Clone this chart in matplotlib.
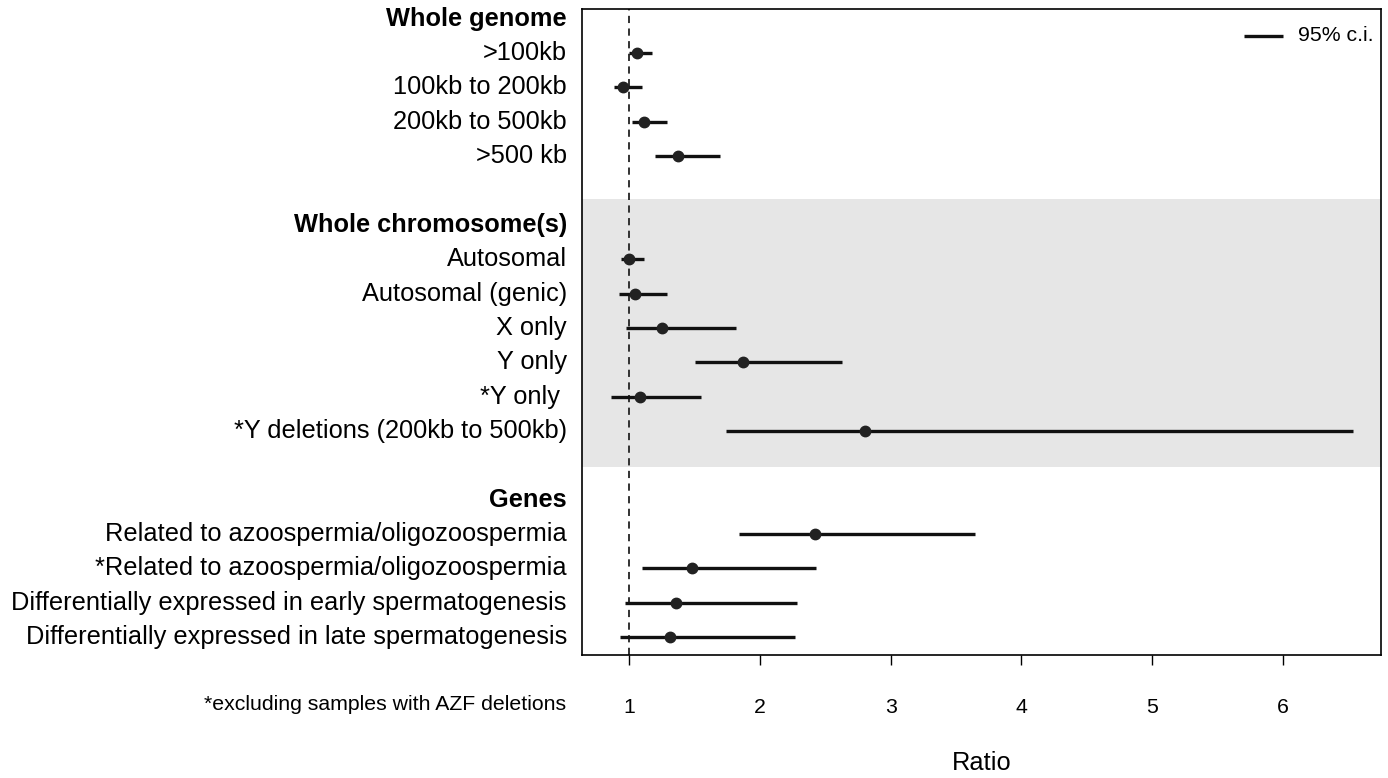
import matplotlib
matplotlib.use('Agg')
import matplotlib.pyplot as plt
import matplotlib.transforms as mtransforms

plt.rcParams['font.family'] = ['Liberation Sans', 'DejaVu Sans']

# rows: labels in plotting order, blank strings are spacer rows
labels = ['Whole genome', '>100kb', '100kb to 200kb', '200kb to 500kb', '>500 kb', '',
          'Whole chromosome(s)', 'Autosomal', 'Autosomal (genic)', 'X only', 'Y only',
          '*Y only ', '*Y deletions (200kb to 500kb)', '',
          'Genes', 'Related to azoospermia/oligozoospermia',
          '*Related to azoospermia/oligozoospermia',
          'Differentially expressed in early spermatogenesis',
          'Differentially expressed in late spermatogenesis']
headers = ['Whole genome', 'Whole chromosome(s)', 'Genes']

ratio = [None, 1.06, 0.95, 1.11, 1.37, None,
         None, 1.00, 1.04, 1.25, 1.87, 1.08, 2.80, None,
         None, 2.42, 1.48, 1.36, 1.31]
ci_low = [None, 1.00, 0.885, 1.02, 1.20, None,
          None, 0.94, 0.92, 0.975, 1.50, 0.86, 1.74, None,
          None, 1.84, 1.10, 0.97, 0.93]
ci_high = [None, 1.17, 1.095, 1.29, 1.69, None,
           None, 1.11, 1.29, 1.82, 2.63, 1.55, 6.54, None,
           None, 3.645, 2.43, 2.28, 2.27]

xticks = [1, 2, 3, 4, 5, 6]

fig = plt.figure(figsize=(13.88, 7.78), dpi=100)
ax = fig.add_axes([582 / 1388, 1 - 655 / 778, 799 / 1388, 646 / 778])

ax.axhspan(5.25, 13.05, color='#e6e6e6', lw=0, zorder=0)
ax.axvline(1, color='#222222', ls=(0, (4, 3)), lw=1.3, zorder=1)

for i, lab in enumerate(labels):
    if ratio[i] is not None:
        ax.plot([ci_low[i], ci_high[i]], [i, i], color='#111111', lw=2.4,
                solid_capstyle='butt', zorder=2)
        ax.plot(ratio[i], i, 'o', color='#222222', ms=7.5, zorder=3)

trans = mtransforms.blended_transform_factory(ax.transAxes, ax.transData)
for i, lab in enumerate(labels):
    if not lab:
        continue
    ax.text(-0.019, i, lab, transform=trans, ha='right', va='center',
            fontsize=18.3, fontweight='bold' if lab in headers else 'normal')

ax.set_xlim(0.638, 6.751)
ax.set_ylim(18.52, -0.28)
ax.set_yticks([])
ax.set_xticks(xticks)
ax.set_xticklabels([str(t) for t in xticks])
ax.tick_params(axis='x', length=7, width=1, pad=24, labelsize=15.3)
for s in ax.spines.values():
    s.set_linewidth(1.2)

# legend
ax.plot([5.70, 6.00], [0.5, 0.5], color='#111111', lw=2.4, solid_capstyle='butt')
ax.text(6.115, 0.5, '95% c.i.', va='center', ha='left', fontsize=15.3)

fig.text(566 / 1388, 1 - 705 / 778, '*excluding samples with AZF deletions',
         ha='right', va='center', fontsize=15.3)
fig.text(982 / 1388, 1 - 763 / 778, 'Ratio', ha='center', va='center', fontsize=18.3)

fig.savefig('out.png', dpi=100)
